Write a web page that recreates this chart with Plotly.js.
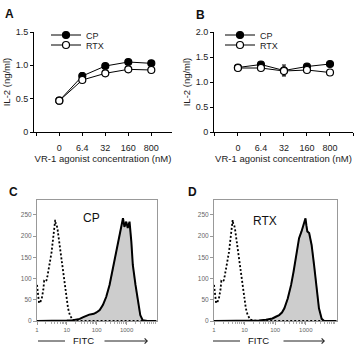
<!DOCTYPE html>
<html><head><meta charset="utf-8">
<script src="https://cdn.plot.ly/plotly-3.0.1.min.js"></script>
<style>html,body{margin:0;padding:0;background:#fff}#chart{width:355px;height:347px}</style>
</head><body><div id="chart"></div>
<script>
// ---- Panel A / B data (IL-2, ng/ml) ----
const concLabels = ['0', '6.4', '32', '160', '800'];
const concIndex = [0, 1, 2, 3, 4];
const aCP = [0.47, 0.84, 0.99, 1.05, 1.03];
const aCPerr = [0.02, 0.05, 0.03, 0.03, 0.03];
const aRTX = [0.47, 0.78, 0.88, 0.94, 0.93];
const aRTXerr = [0.02, 0.03, 0.02, 0.02, 0.03];
const bCP = [1.29, 1.35, 1.23, 1.31, 1.36];
const bCPerr = [0.03, 0.04, 0.11, 0.04, 0.04];
const bRTX = [1.28, 1.28, 1.22, 1.24, 1.19];
const bRTXerr = [0.03, 0.03, 0.08, 0.03, 0.03];

// ---- Panel C / D histograms (x = log10 FITC, y = counts) ----
const isoX = [0.0, 0.03, 0.07, 0.12, 0.16, 0.21, 0.24, 0.28, 0.32, 0.35, 0.38, 0.43, 0.49, 0.54, 0.58, 0.61, 0.63, 0.66, 0.69, 0.72, 0.77, 0.82, 0.88, 0.93, 0.99, 1.04, 1.10, 1.19, 1.30, 1.5, 2.0, 2.5, 3.0, 3.5, 4.0];
const isoY = [85, 60, 42, 46, 53, 73, 94, 92, 96, 106, 116, 138, 163, 191, 215, 238, 228, 226, 215, 199, 175, 148, 116, 85, 53, 30, 14, 3, 1, 0, 0, 0, 0, 0, 0];

const cpX = [0, 0.5, 1.0, 1.2, 1.43, 1.55, 1.66, 1.75, 1.82, 1.9, 1.99, 2.1, 2.21, 2.32, 2.43, 2.52, 2.6, 2.66, 2.71, 2.77, 2.82, 2.88, 2.93, 2.99, 3.04, 3.1, 3.16, 3.21, 3.3, 3.38, 3.46, 3.54, 3.7, 4.0];
const cpY = [0, 0, 1, 2, 5, 9, 13, 15, 16, 17, 20, 26, 38, 57, 85, 116, 148, 171, 187, 207, 226, 242, 222, 234, 219, 234, 187, 132, 85, 46, 14, 2, 0, 0];
const cpFillY = [0, 0, 1, 2, 4, 8, 12, 14, 15, 16, 18, 24, 35, 54, 82, 112, 145, 168, 185, 205, 222, 238, 220, 230, 222, 230, 190, 130, 80, 40, 10, 1, 0, 0];

const rtxX = [0, 1.0, 1.47, 1.7, 1.91, 2.02, 2.13, 2.22, 2.3, 2.41, 2.52, 2.6, 2.69, 2.78, 2.86, 2.93, 2.99, 3.02, 3.05, 3.11, 3.19, 3.27, 3.36, 3.43, 3.52, 3.6, 4.0];
const rtxY = [0, 0, 1, 3, 6, 10, 14, 20, 30, 53, 85, 116, 156, 195, 211, 230, 242, 225, 211, 207, 179, 132, 77, 30, 5, 0, 0];
const rtxFillY = [0, 0, 1, 3, 5, 9, 13, 19, 28, 50, 82, 114, 154, 192, 210, 226, 236, 224, 214, 208, 182, 135, 80, 32, 6, 0, 0];

const histTickVals = [0, 1, 2, 3];
const histTickText = ['1', '10', '100', '1000'];
const countTicks = [0, 50, 100, 150, 200, 250];

const FONT = 'Arial, "Liberation Sans", sans-serif';
const W = 355, H = 347;
const px = v => v / W;
const py = v => 1 - v / H;

function lineTrace(x, y, err, xa, ya, name, filled, legend) {
  return {
    x: x, y: y, xaxis: xa, yaxis: ya, name: name, legend: legend,
    type: 'scatter', mode: 'lines+markers',
    line: {color: '#000', width: 1},
    marker: {symbol: 'circle', size: 7, color: filled ? '#000' : '#fff', line: {color: '#000', width: 1.2}},
    error_y: {type: 'data', array: err, visible: true, color: '#000', thickness: 1, width: 2}
  };
}

const minorVals = [];
for (let d = 0; d < 4; d++) for (let k = 2; k <= 9; k++) minorVals.push(d + Math.log10(k));

const traces = [
  lineTrace(concIndex, aCP, aCPerr, 'x', 'y', 'CP', true, 'legend'),
  lineTrace(concIndex, aRTX, aRTXerr, 'x', 'y', 'RTX', false, 'legend2'),
  lineTrace(concIndex, bCP, bCPerr, 'x2', 'y2', 'CP', true, 'legend3'),
  lineTrace(concIndex, bRTX, bRTXerr, 'x2', 'y2', 'RTX', false, 'legend4'),
  // C
  {x: cpX, y: cpFillY, xaxis: 'x3', yaxis: 'y3', type: 'scatter', mode: 'lines', fill: 'tozeroy',
   fillcolor: '#cdcdcd', line: {color: '#999', width: 0.8}, showlegend: false},
  {x: cpX, y: cpY, xaxis: 'x3', yaxis: 'y3', type: 'scatter', mode: 'lines',
   line: {color: '#000', width: 2}, showlegend: false},
  {x: isoX, y: isoY, xaxis: 'x3', yaxis: 'y3', type: 'scatter', mode: 'lines',
   line: {color: '#000', width: 1.8, dash: '2px,2px'}, showlegend: false},
  // D
  {x: rtxX, y: rtxFillY, xaxis: 'x4', yaxis: 'y4', type: 'scatter', mode: 'lines', fill: 'tozeroy',
   fillcolor: '#cdcdcd', line: {color: '#999', width: 0.8}, showlegend: false},
  {x: rtxX, y: rtxY, xaxis: 'x4', yaxis: 'y4', type: 'scatter', mode: 'lines',
   line: {color: '#000', width: 2}, showlegend: false},
  {x: isoX, y: isoY, xaxis: 'x4', yaxis: 'y4', type: 'scatter', mode: 'lines',
   line: {color: '#000', width: 1.8, dash: '2px,2px'}, showlegend: false}
];

function catXAxis(domain, range, anchor) {
  return {
    domain: domain, range: range, anchor: anchor,
    showline: true, linecolor: '#000', linewidth: 1, showgrid: false, zeroline: false,
    ticks: 'outside', ticklen: 3, tickcolor: '#000',
    tickvals: [-1, 0, 1, 2, 3, 4, 5], ticktext: ['', ...concLabels, ''],
    tickfont: {family: FONT, size: 9, color: '#222'}, ticklabelstandoff: 4,
    title: {text: 'VR-1 agonist concentration (nM)', font: {family: FONT, size: 9.5, color: '#222'}, standoff: 3}
  };
}
function ilYAxis(domain, range, vals, texts, anchor) {
  return {
    domain: domain, range: range, anchor: anchor,
    showline: true, linecolor: '#000', linewidth: 1, showgrid: false, zeroline: false,
    ticks: 'outside', ticklen: 3, tickcolor: '#000',
    tickvals: vals, ticktext: texts,
    tickfont: {family: FONT, size: 9, color: '#222'},
    title: {text: 'IL-2 (ng/ml)', font: {family: FONT, size: 9.5, color: '#222'}, standoff: 3}
  };
}
function histXAxis(domain, anchor) {
  return {
    domain: domain, range: [0, 4.02], anchor: anchor,
    showline: true, mirror: true, linecolor: '#999', linewidth: 1, showgrid: false, zeroline: false,
    ticks: 'outside', ticklen: 3, tickcolor: '#999',
    tickvals: histTickVals, ticktext: histTickText,
    tickfont: {family: FONT, size: 6, color: '#666'},
    minor: {tickvals: minorVals, ticks: 'outside', ticklen: 2, tickcolor: '#aaa'}
  };
}
function histYAxis(domain, anchor) {
  return {
    domain: domain, range: [0, 285], anchor: anchor,
    showline: true, mirror: true, linecolor: '#999', linewidth: 1, showgrid: false, zeroline: false,
    ticks: 'outside', ticklen: 3, tickcolor: '#999',
    tickvals: countTicks, ticktext: countTicks.map(String),
    tickfont: {family: FONT, size: 6.5, color: '#666'}
  };
}

const topDom = [py(132), py(32)];
const botDom = [py(321), py(200)];

function legendAt(markerX, markerY) {
  return {x: px(markerX - 20), y: py(markerY - 14.5), xanchor: 'left', yanchor: 'top',
    bgcolor: 'rgba(0,0,0,0)', borderwidth: 0, orientation: 'v',
    font: {family: FONT, size: 9, color: '#222'}};
}

function label(text, x, y, size, bold) {
  return {text: bold ? '<b>' + text + '</b>' : text, x: px(x), y: py(y), xref: 'paper', yref: 'paper',
    showarrow: false, xanchor: 'center', yanchor: 'middle', borderpad: 0,
    font: {family: FONT, size: size, color: '#111'}};
}
function arrow(x0, x1, y) {
  return {text: '', x: px(x1), y: py(y), xref: 'paper', yref: 'paper',
    ax: x0 - x1, ay: 0, showarrow: true, arrowhead: 4, arrowsize: 1, arrowwidth: 1, arrowcolor: '#222'};
}

const layout = {
  width: W, height: H,
  margin: {l: 0, r: 0, t: 0, b: 0, autoexpand: false},
  paper_bgcolor: '#fff', plot_bgcolor: 'rgba(0,0,0,0)',
  font: {family: FONT, color: '#222'},
  showlegend: true,
  xaxis: catXAxis([px(34), px(172)], [-1.1, 4.9], 'y'),
  yaxis: ilYAxis(topDom, [0, 1.5], [0, 0.5, 1, 1.5], ['0', '0.5', '1.0', '1.5'], 'x'),
  xaxis2: catXAxis([px(214), px(353)], [-1.04, 5.0], 'y2'),
  yaxis2: ilYAxis(topDom, [0, 2], [0, 0.5, 1, 1.5, 2], ['0', '0.5', '1.0', '1.5', '2.0'], 'x2'),
  xaxis3: histXAxis([px(37), px(157)], 'y3'),
  yaxis3: histYAxis(botDom, 'x3'),
  xaxis4: histXAxis([px(214), px(337)], 'y4'),
  yaxis4: histYAxis(botDom, 'x4'),
  legend: legendAt(66, 35),
  legend2: legendAt(66, 45),
  legend3: legendAt(240, 35),
  legend4: legendAt(240, 45),
  annotations: [
    label('A', 9, 14, 12, true),
    label('B', 200, 15, 12, true),
    label('C', 13.5, 192, 12, true),
    label('D', 192.5, 192, 12, true),
    label('CP', 91, 218, 12, false),
    label('RTX', 265, 221, 12, false),
    label('FITC', 83.5, 340.5, 9.5, false),
    label('FITC', 258, 340.5, 9.5, false),
    arrow(103, 148, 341),
    arrow(282, 325, 341)
  ],
  shapes: [
    {type: 'line', xref: 'paper', yref: 'paper', x0: px(38), x1: px(65), y0: py(341), y1: py(341), line: {color: '#222', width: 1}},
    {type: 'line', xref: 'paper', yref: 'paper', x0: px(213), x1: px(240), y0: py(341), y1: py(341), line: {color: '#222', width: 1}}
  ]
};

Plotly.newPlot('chart', traces, layout, {staticPlot: true, displayModeBar: false});
</script>
</body></html>
